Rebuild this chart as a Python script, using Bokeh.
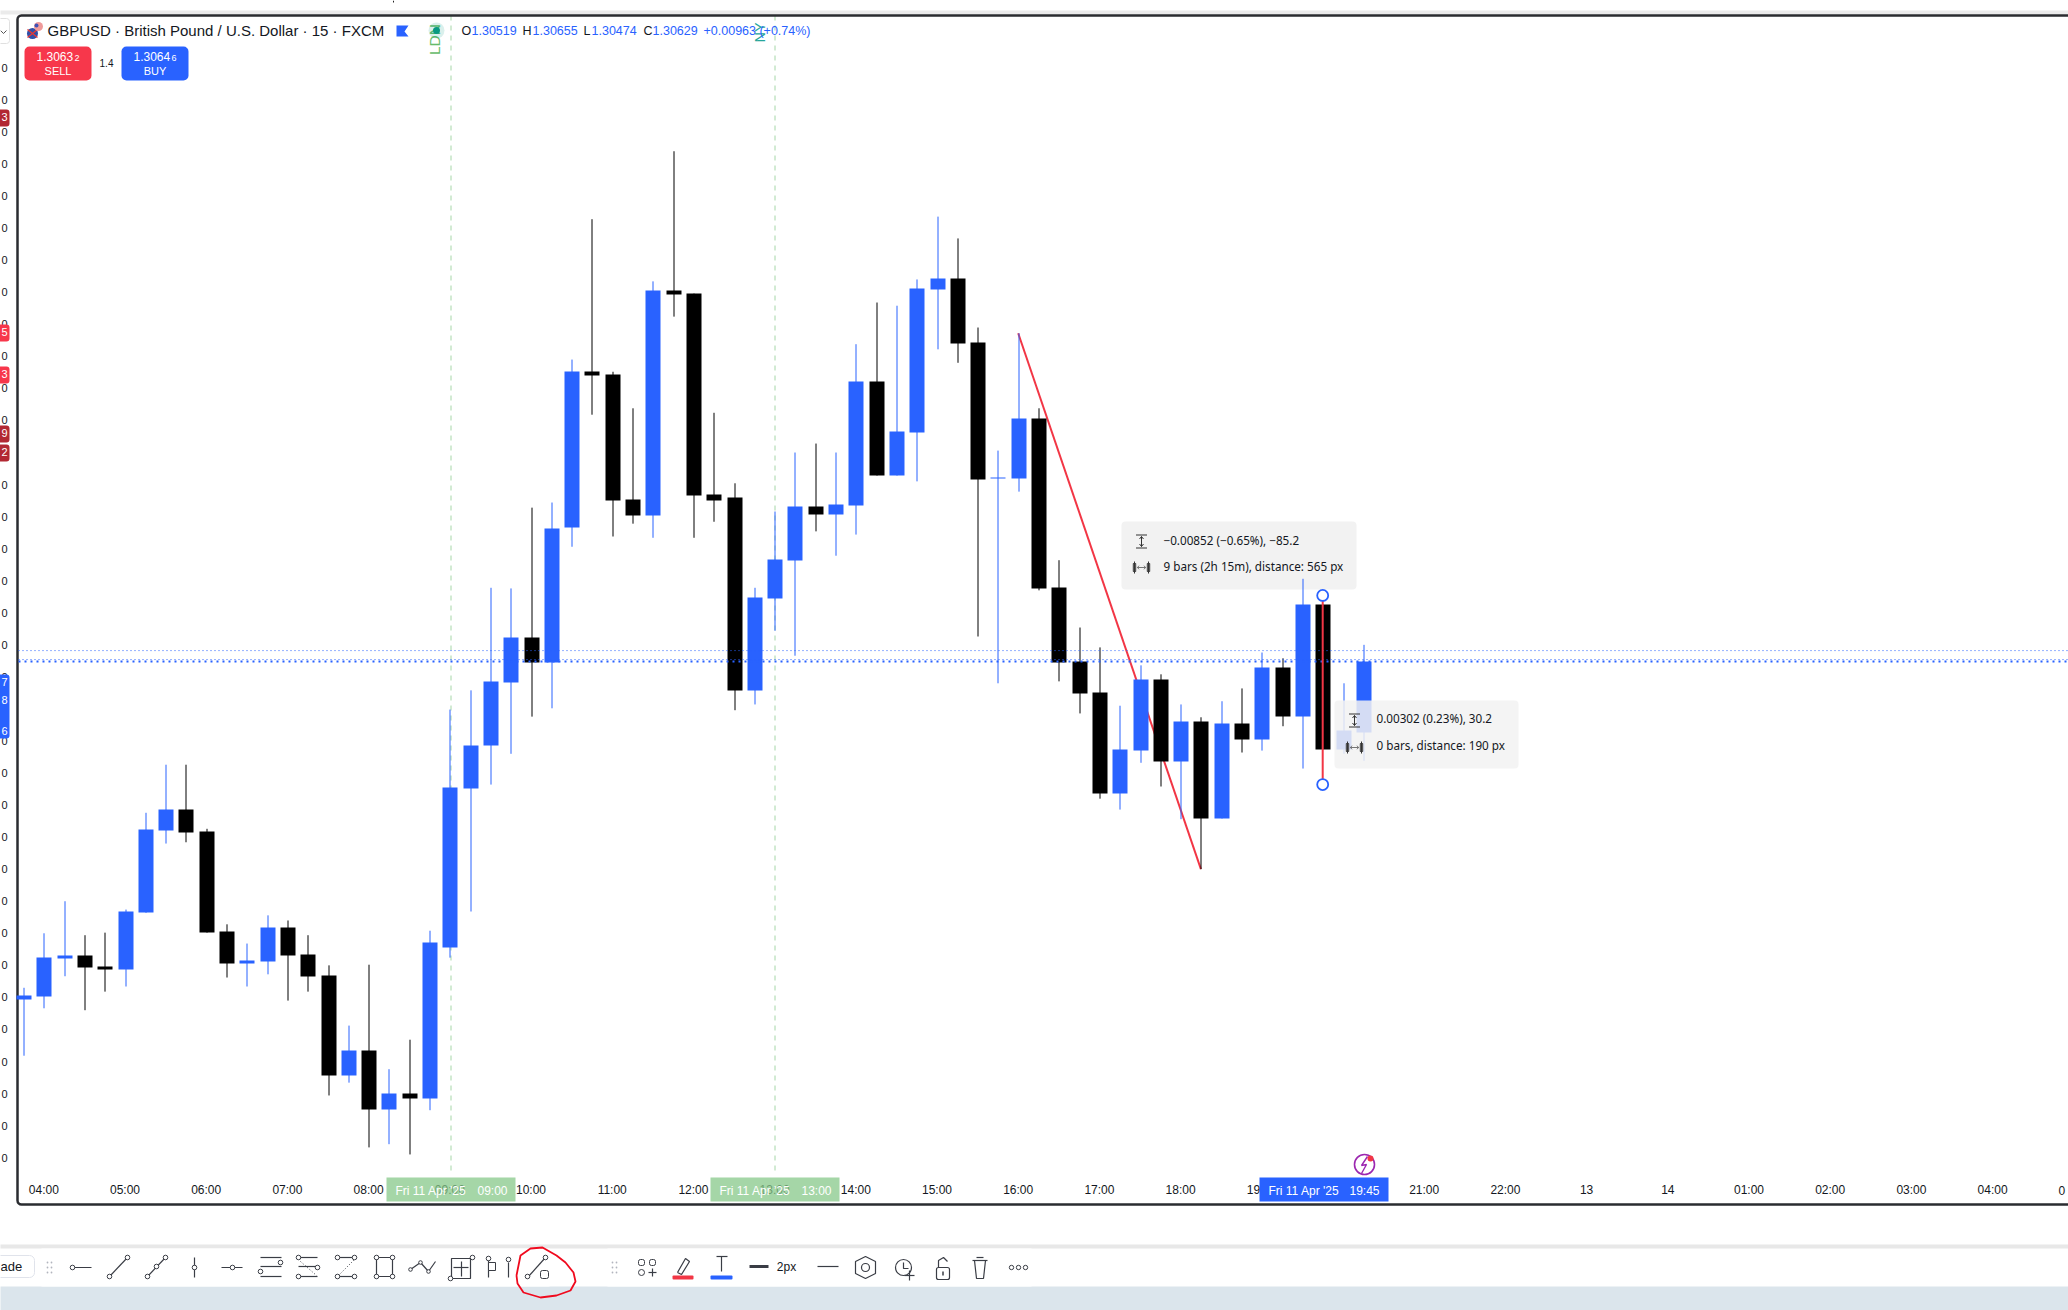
import math
from bokeh.core.properties import value
from bokeh.embed import file_html
from bokeh.models import FixedTicker, Range1d
from bokeh.plotting import figure
from bokeh.resources import INLINE

# ---- chart data (GBPUSD, 15 minute bars, index 2 = 04:00) ----
bar_index = list(range(1, 68))
open_ = [1.30102,1.30106,1.30166,1.30170,1.30153,1.30149,1.30237,1.30365,1.30398,1.30364,
         1.30208,1.30158,1.30161,1.30214,1.30172,1.30139,1.29983,1.30022,1.29930,1.29955,
         1.29947,1.30183,1.30431,1.30498,1.30596,1.30666,1.30627,1.30838,1.31081,1.31077,
         1.30882,1.30857,1.31208,1.31203,1.30890,1.30885,1.30584,1.30727,1.30787,1.30871,
         1.30858,1.30872,1.31066,1.30919,1.30986,1.31209,1.31226,1.31127,1.30914,1.30914,
         1.31008,1.30744,1.30629,1.30581,1.30423,1.30490,1.30601,1.30473,1.30535,1.30384,
         1.30532,1.30507,1.30620,1.30543,1.30718,1.30492,1.30519]
high = [1.30120,1.30205,1.30255,1.30202,1.30206,1.30242,1.30393,1.30468,1.30468,1.30368,
        1.30219,1.30189,1.30233,1.30225,1.30202,1.30155,1.30061,1.30156,1.29993,1.30039,
        1.30209,1.30554,1.30584,1.30744,1.30743,1.30869,1.30877,1.31100,1.31319,1.31081,
        1.31024,1.31222,1.31425,1.31203,1.31017,1.30907,1.30744,1.30863,1.30955,1.30969,
        1.30955,1.31124,1.31189,1.31184,1.31225,1.31323,1.31289,1.31150,1.30958,1.31141,
        1.31024,1.30787,1.30682,1.30651,1.30560,1.30623,1.30609,1.30562,1.30542,1.30567,
        1.30587,1.30643,1.30634,1.30758,1.30718,1.30595,1.30655]
low = [1.30014,1.30088,1.30138,1.30085,1.30114,1.30122,1.30237,1.30345,1.30347,1.30206,
       1.30136,1.30122,1.30141,1.30100,1.30114,1.29952,1.29972,1.29871,1.29876,1.29860,
       1.29929,1.30167,1.30239,1.30437,1.30485,1.30543,1.30556,1.30808,1.31014,1.30824,
       1.30844,1.30822,1.31167,1.30822,1.30847,1.30553,1.30562,1.30677,1.30638,1.30832,
       1.30794,1.30827,1.30919,1.30919,1.30910,1.31116,1.31095,1.30668,1.30595,1.30894,
       1.30740,1.30598,1.30548,1.30415,1.30398,1.30471,1.30434,1.30383,1.30305,1.30384,
       1.30487,1.30490,1.30528,1.30462,1.30492,1.30485,1.30474]
close = [1.30108,1.30167,1.30170,1.30152,1.30149,1.30239,1.30367,1.30398,1.30362,1.30206,
         1.30158,1.30163,1.30214,1.30170,1.30138,1.29983,1.30022,1.29930,1.29955,1.29947,
         1.30191,1.30432,1.30498,1.30598,1.30666,1.30627,1.30836,1.31081,1.31075,1.30880,
         1.30857,1.31208,1.31202,1.30888,1.30880,1.30584,1.30729,1.30788,1.30871,1.30858,
         1.30874,1.31066,1.30919,1.30988,1.31211,1.31226,1.31125,1.30913,1.30916,1.31008,
         1.30743,1.30627,1.30579,1.30423,1.30492,1.30601,1.30473,1.30535,1.30384,1.30532,
         1.30507,1.30620,1.30543,1.30718,1.30492,1.30521,1.30629]
x_ticks = [2 + 4 * i for i in range(25)]
x_labels = ["04:00","05:00","06:00","07:00","08:00","09:00","10:00","11:00","12:00","13:00",
            "14:00","15:00","16:00","17:00","18:00","19:00","20:00","21:00","22:00","13",
            "14","01:00","02:00","03:00","04:00"]
y_ticks = [1.31555 - 0.0005 * i for i in range(35)]
sell_price, buy_price, last_close = 1.30632, 1.30646, 1.30629
trend_bars, trend_prices = [50, 59], [1.31141, 1.30305]
ruler_bar, ruler_prices = 65, [1.30732, 1.30437]

BLUE, RED, DARK, GREEN, TEAL = "#2962ff", "#f23645", "#131722", "#a5d6a7", "#26a69a"
W, H = 2068, 1310


def X(px):
    return 2 + (px - 43.3) / 20.3


def Y(py):
    return 1.30629 + (661 - py) * 1.56e-5


def bar_px(i):
    return math.floor(43.3 + (i - 2) * 20.3 + 0.52)


def snap_price(v):
    return Y(round(661 - (v - 1.30629) / 1.56e-5))


p = figure(width=W, height=H, output_backend="svg", toolbar_location=None,
           x_range=Range1d(X(0), X(W)), y_range=Range1d(Y(H), Y(0)),
           min_border=0, min_border_left=0, min_border_right=0, min_border_top=0, min_border_bottom=0,
           outline_line_color=None, background_fill_color="white", border_fill_color="white")
p.margin = (0, 0, 0, 0)
p.grid.visible = False


def box(x0, x1, y0, y1, fill, radius=0, alpha=1.0, level="glyph", line=None, lw=1):
    p.quad(left=[X(x0)], right=[X(x1)], top=[Y(y0)], bottom=[Y(y1)], fill_color=fill, fill_alpha=alpha,
           line_color=line, line_width=lw, border_radius=radius, level=level)


def line(xs, ys, color=DARK, width=1.0, level="glyph", dash="solid", alpha=1.0):
    p.line([X(a) for a in xs], [Y(b) for b in ys], line_color=color, line_width=width,
           level=level, line_dash=dash, line_alpha=alpha)


def dot(x, y, r, fill="white", stroke=DARK, width=1.0, level="glyph", alpha=1.0):
    p.scatter([X(x)], [Y(y)], size=2 * r, marker="circle", fill_color=fill, fill_alpha=alpha,
              line_color=stroke, line_width=width, level=level)


def text(x, y, s, size=12, color=DARK, align="left", font="Liberation Sans", level="glyph", angle=0.0, style="normal"):
    p.text([X(x)], [Y(y - 1)], text=[s], text_font_size=f"{size}px", text_color=color, text_align=align,
           text_baseline="middle", text_font=value(font), level=level, angle=angle, text_font_style=style)


# page strips
box(-5, W + 5, 10, 14, "#ebebeb")
box(-5, W + 5, 1244, 1248, "#e8e8e8")
box(-5, W + 5, 1286, H + 5, "#dbe5ec")
line([393, 393], [0, 2], "#222222", 1)

# tooltip of the trend line sits under the candles
box(1121, 1356, 521, 589, "#f2f2f2", radius=4)

# session lines
for sx in (450.5, 774.5):
    line([sx, sx], [15, 1173], GREEN, 1, dash="5 5")

# trend line sits under the candles
p.line(trend_bars, trend_prices, line_color=RED, line_width=2)

# axes
ax = p.xaxis[0]
ax.fixed_location = Y(1182.5)
ax.ticker = FixedTicker(ticks=x_ticks)
ax.major_label_overrides = dict(zip(x_ticks, x_labels))
ax.axis_line_color = None
ax.major_tick_line_color = None
ax.minor_tick_line_color = None
ax.major_tick_in = 0
ax.major_tick_out = 0
ax.major_label_standoff = 0
ax.major_label_text_font = "Liberation Sans"
ax.major_label_text_font_size = "12px"
ax.major_label_text_color = DARK

ay = p.yaxis[0]
ay.fixed_location = X(17)
ay.ticker = FixedTicker(ticks=y_ticks)
ay.major_label_overrides = {t: "0" for t in y_ticks}
ay.axis_line_color = None
ay.major_tick_line_color = None
ay.minor_tick_line_color = None
ay.major_tick_in = 0
ay.major_tick_out = 0
ay.major_label_standoff = 10
ay.major_label_text_font = "Liberation Sans"
ay.major_label_text_font_size = "11px"
ay.major_label_text_color = DARK
ay.major_label_text_baseline = "bottom"
text(2058, 1191, "0", 12, align="left")

# frame
box(17, W + 10, 15, 1204, None, radius=4, line="#2a2c30", lw=2.5)

# candles
colors = [BLUE if c >= o else "#000000" for o, c in zip(open_, close)]
tops = [snap_price(max(o, c)) for o, c in zip(open_, close)]
bots = [snap_price(min(o, c)) for o, c in zip(open_, close)]
for k in range(len(tops)):
    if tops[k] == bots[k]:
        bots[k] = tops[k] - 1.56e-5
wick_x = [X(bar_px(i) + 0.5) for i in bar_index]
body_l = [X(bar_px(i) - 7) for i in bar_index]
body_r = [X(bar_px(i) + 8) for i in bar_index]
p.segment(wick_x, high, wick_x, low, line_color=colors, line_width=1)
p.quad(left=body_l, right=body_r, top=tops, bottom=bots, fill_color=colors, line_color=None)

# price lines
p.line([X(18), X(W)], [buy_price] * 2, line_color=BLUE, line_width=1, line_dash="1 3")
p.line([X(18), X(W)], [sell_price] * 2, line_color=BLUE, line_width=1, line_dash="1 3")
p.line([X(18), X(W)], [last_close] * 2, line_color=BLUE, line_width=2, line_dash="2 4")

# ruler on bar 65
p.line([ruler_bar] * 2, ruler_prices, line_color=RED, line_width=2)
p.scatter([ruler_bar] * 2, ruler_prices, size=11, marker="circle", fill_color="white", line_color=BLUE, line_width=1.8)


def measure_icons(cx, y1, y2, level="glyph"):
    line([cx - 5.5, cx + 5.5], [y1 - 6.5, y1 - 6.5], "#333", 1, level)
    line([cx - 5.5, cx + 5.5], [y1 + 6.5, y1 + 6.5], "#333", 1, level)
    line([cx, cx], [y1 - 5, y1 + 5], "#333", 1, level)
    line([cx - 2, cx, cx + 2], [y1 - 2.5, y1 - 5, y1 - 2.5], "#333", 1, level)
    line([cx - 2, cx, cx + 2], [y1 + 2.5, y1 + 5, y1 + 2.5], "#333", 1, level)
    for dx in (-7, 7):
        box(cx + dx - 1.2, cx + dx + 1.2, y2 - 4, y2 + 4, "white", line="#333", level=level)
        line([cx + dx, cx + dx], [y2 - 6, y2 + 6], "#333", 1, level)
    line([cx - 4, cx + 4], [y2, y2], "#555", 0.8, level)
    line([cx - 2.5, cx - 4, cx - 2.5], [y2 - 1.8, y2, y2 + 1.8], "#555", 0.8, level)
    line([cx + 2.5, cx + 4, cx + 2.5], [y2 - 1.8, y2, y2 + 1.8], "#555", 0.8, level)


TIP = "Noto Sans"
measure_icons(1141, 541, 567)
text(1163, 540, "−0.00852 (−0.65%), −85.2", 11.7, DARK, font=TIP)
text(1163, 566, "9 bars (2h 15m), distance: 565 px", 11.7, DARK, font=TIP)

box(1334, 1518, 700, 768, "#f2f2f2", radius=4, alpha=0.85, level="overlay")
measure_icons(1354, 720, 747, level="overlay")
text(1376, 718, "0.00302 (0.23%), 30.2", 11.7, DARK, font=TIP, level="overlay")
text(1376, 745, "0 bars, distance: 190 px", 11.7, DARK, font=TIP, level="overlay")

# header
text(47, 31, "GBPUSD · British Pound / U.S. Dollar · 15 · FXCM", 15, "#131722")
dot(32, 33, 5.5, "#2f4fa8", None)
line([27, 37], [29, 37], "#e53935", 1.5)
line([27, 37], [37, 29], "#e53935", 1.5)
dot(38, 26, 4.5, "#ef9a9a", None)
dot(36, 25, 2, "#3f51b5", None)
p.patch([X(a) for a in (396, 408, 404, 408, 396)], [Y(b) for b in (25, 25, 31, 36, 36)], fill_color=BLUE, line_color=None)
text(434, 40, "LDN", 15.5, "#66bb6a", align="center", angle=math.pi / 2)
dot(436, 30, 8, "#089981", None, alpha=0.15)
dot(436, 30, 3.5, "#089981", None)
text(759, 33, "NY", 14.5, TEAL, align="center", angle=math.pi / 2)
for sx, lab in ((461, "O"), (522, "H"), (583, "L"), (643, "C")):
    text(sx, 31, lab, 12.5, "#131722")
for sx, val in ((471, "1.30519"), (532, "1.30655"), (591, "1.30474"), (652, "1.30629"), (703, "+0.00963 (+0.74%)")):
    text(sx, 31, val, 12.5, BLUE)

# trade buttons
box(24, 91, 46, 80, "#f7374b", radius=5)
box(121, 188, 46, 80, BLUE, radius=5)
text(36, 57, "1.3063", 12, "white")
text(74, 58, "2", 9, "white")
text(57.5, 71, "SELL", 11, "white", align="center")
text(106, 63, "1.4", 10, DARK, align="center")
text(133, 57, "1.3064", 12, "white")
text(171, 58, "6", 9, "white")
text(154.5, 71, "BUY", 11, "white", align="center")
line([0, 3, 6], [30, 33, 30], "#555", 1)
box(-5, 9, 18, 43, None, radius=3, line="#e0e0e0")

# clipped price tags at the left edge
for y0, col, lab in ((109, "#b22833", "3"), (324, "#f7374b", "5"), (366, "#f7374b", "3"),
                     (425, "#b22833", "9"), (444, "#b22833", "2")):
    box(-6, 9, y0, y0 + 17, col, radius=3, level="overlay")
    text(1, y0 + 8.5, lab, 11, "white", align="left", level="overlay")
box(-6, 9, 674, 738, BLUE, radius=3, level="overlay")
for ty, lab in ((682, "7"), (700, "8"), (731, "6")):
    text(1, ty, lab, 11, "white", align="left", level="overlay")

# time tags
TAG_GREEN = "#87c88a"
box(386, 515, 1177, 1201, TAG_GREEN, alpha=0.75, level="overlay")
text(395, 1191, "Fri 11 Apr '25", 12, "white", level="overlay")
text(477, 1191, "09:00", 12, "white", level="overlay")
box(710, 839, 1177, 1201, TAG_GREEN, alpha=0.75, level="overlay")
text(719, 1191, "Fri 11 Apr '25", 12, "white", level="overlay")
text(801, 1191, "13:00", 12, "white", level="overlay")
box(1259, 1388, 1177, 1201, BLUE, level="overlay")
text(1268, 1191, "Fri 11 Apr '25", 12, "white", level="overlay")
text(1349, 1191, "19:45", 12, "white", level="overlay")

# alert icon
dot(1364, 1164, 10, "white", "#9c27b0", 1.6)
line([1367, 1361, 1366, 1361], [1156, 1165, 1164, 1173], "#9c27b0", 1.4)
dot(1370, 1158, 3, RED, None)

# drawing toolbar
box(36, 554, 1248, 1286, "white", radius=6)
box(602, 1036, 1248, 1286, "white", radius=6)
box(-10, 34, 1255, 1277, "white", radius=5, line="#e0e3eb")
text(0, 1267, "ade", 13, DARK)
for gx in (47, 51, 612, 616):
    for gy in (1262, 1267, 1272):
        dot(gx, gy, 0.9, "#b2b5be", None)
I = "#3a3d45"


def node(x, y, r=2.3):
    dot(x, y, r, "white", I, 1)


line([73, 91], [1267, 1267], I, 1.2); node(72, 1267)
line([109, 127], [1276, 1257], I, 1.2); node(109, 1276); node(127, 1257)
line([147, 165], [1276, 1257], I, 1.2); node(147, 1276); node(156, 1266); node(165, 1257)
line([194, 194], [1257, 1277], I, 1.2); node(194, 1267)
line([221, 242], [1267, 1267], I, 1.2); node(232, 1267)
for gy in (1257, 1266, 1276):
    line([260, 281], [gy, gy], I, 1.2)
node(280, 1262); node(260, 1271)
for gy, a, b in ((1257, 298, 317), (1266, 298, 317), (1276, 298, 317)):
    line([a, b], [gy, gy], I, 1.2)
line([300, 316], [1261, 1275], I, 1, dash="1 2"); node(298, 1257); node(317, 1267); node(298, 1276)
for gy in (1257, 1276):
    line([337, 354], [gy, gy], I, 1.2)
line([338, 354], [1275, 1259], I, 1, dash="1 2"); node(337, 1257); node(354, 1257); node(337, 1276); node(354, 1276)
box(376, 392, 1257, 1276, None, line=I, lw=1.2)
for a in (376, 392):
    for b in (1257, 1276):
        node(a, b)
line([410, 420, 428, 435], [1269, 1262, 1271, 1261], I, 1.2)
node(410, 1269, 1.8); node(420, 1262, 1.8); node(428, 1271, 1.8)
box(451, 470, 1258, 1278, None, line=I, lw=1.2)
line([461, 461], [1261, 1276], I, 1.2); line([453, 468], [1267, 1267], I, 1.2); node(472, 1257); node(450, 1278)
line([488, 488], [1259, 1277], I, 1.2); box(488, 495, 1262, 1270, "white", line=I); node(488, 1258)
line([508, 508], [1262, 1277], I, 1.2); node(508, 1259)
line([528, 545], [1276, 1257], I, 1.2); node(527, 1276); node(545, 1257)
box(540, 548, 1270, 1278, "white", radius=2, line=I)
scribble_x = [516, 520, 530, 542, 556, 565, 573, 575, 570, 556, 540, 523, 517, 516]
scribble_y = [1275, 1255, 1248, 1247, 1255, 1262, 1272, 1281, 1290, 1295, 1297, 1292, 1283, 1275]
line(scribble_x, scribble_y, "#f00a1e", 1.8)

box(638, 644, 1259, 1265, None, radius=2, line=I)
box(649, 655, 1259, 1265, None, radius=2, line=I)
dot(641, 1272, 3, "white", I)
line([648, 656], [1272, 1272], I, 1.2); line([652, 652], [1268, 1276], I, 1.2)
line([677, 685, 689, 681, 677], [1272, 1258, 1261, 1274, 1272], I, 1.2)
box(672, 693, 1275, 1279, RED, radius=1)
line([716, 727], [1256, 1256], I, 1.2); line([721, 721], [1256, 1271], I, 1.2)
box(710, 732, 1275, 1279, BLUE, radius=1)
line([749, 768], [1266, 1266], I, 3)
text(786, 1267, "2px", 12, DARK, align="center")
line([817, 838], [1266, 1266], I, 1.2)
line([865, 875, 875, 865, 855, 855, 865], [1256, 1261, 1273, 1278, 1273, 1261, 1256], I, 1.2)
dot(865, 1267, 4, "white", I, 1.2)
dot(903, 1267, 8, "white", I, 1.2)
line([903, 903, 908], [1262, 1268, 1268], I, 1.2)
line([904, 914], [1275, 1275], I, 1.2); line([909, 909], [1270, 1280], I, 1.2)
box(936, 949, 1267, 1279, "white", radius=2, line=I, lw=1.2)
line([938, 938, 943, 947], [1267, 1260, 1257, 1261], I, 1.2)
line([942.5, 942.5], [1271, 1275], I, 1.5)
line([972, 987], [1260, 1260], I, 1.2); line([976, 983], [1257, 1257], I, 1.2)
line([974, 976, 983, 985, 974], [1260, 1278, 1278, 1260, 1260], I, 1.2)
for dx in (1011, 1018, 1025):
    dot(dx, 1267, 2.2, "white", I)

open("out.html", "w").write(file_html(p, INLINE))
